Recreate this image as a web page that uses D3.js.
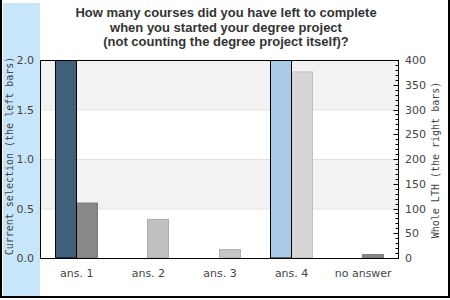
<!DOCTYPE html>
<html><head><meta charset="utf-8">
<script src="https://cdn.jsdelivr.net/npm/d3@7"></script>
<style>body{margin:0;background:#fff}svg{display:block}</style>
</head><body>
<script>
const categories = ["ans. 1","ans. 2","ans. 3","ans. 4","no answer"];
const leftValues = [2, 0, 0, 2, 0];
const rightValues = [112, 79, 18, 377, 8];
const leftColors = ["#405f7b","#405f7b","#405f7b","#a9cbe8","#405f7b"];
const rightColors = ["#888888","#c0c0c0","#c4c4c4","#d6d6d6","#888888"];
const leftTicks = [0, 0.5, 1.0, 1.5, 2.0];
const rightTicks = [0,50,100,150,200,250,300,350,400];
const titleLines = ["How many courses did you have left to complete","when you started your degree project","(not counting the degree project itself)?"];

const W=450,H=300, x0=40, x1=398, y0=60, y1=258;
const svg=d3.select("body").append("svg").attr("width",W).attr("height",H);

svg.append("rect").attr("x",3).attr("y",3).attr("width",37).attr("height",293).attr("fill","#c8e6fa");

const x=d3.scaleBand().domain(categories).range([x0,x1]);
const yL=d3.scaleLinear().domain([0,2]).range([y1,y0]);
const yR=d3.scaleLinear().domain([0,400]).range([y1,y0]);

// bands
const bands=[[1.5,2.0],[0.5,1.0]];
svg.selectAll(".band").data(bands).enter().append("rect")
  .attr("x",x0).attr("width",x1-x0).attr("y",d=>yL(d[1])).attr("height",d=>yL(d[0])-yL(d[1])).attr("fill","#f2f2f2");
svg.selectAll(".grid").data([0.5,1.0,1.5]).enter().append("line")
  .attr("x1",x0).attr("x2",x1).attr("y1",d=>yL(d)+0.5).attr("y2",d=>yL(d)+0.5).attr("stroke","#e0e0e0");

const bw=21;
categories.forEach((c,i)=>{
  const cx=x(c)+x.bandwidth()/2;
  if(rightValues[i]>0){
    svg.append("rect").attr("x",Math.round(cx)+0.5).attr("y",yR(rightValues[i])+0.5)
      .attr("width",bw).attr("height",y1-yR(rightValues[i])-0.5)
      .attr("fill",rightColors[i]).attr("stroke",d3.color(rightColors[i]).darker(0.3)).attr("stroke-width",1);
  }
  if(leftValues[i]>0){
    svg.append("rect").attr("x",Math.round(cx)-bw+0.5).attr("y",yL(leftValues[i])+0.5)
      .attr("width",bw).attr("height",y1-yL(leftValues[i])-0.5)
      .attr("fill",leftColors[i]).attr("stroke","#000").attr("stroke-width",1);
  }
});

// frame
svg.append("rect").attr("x",x0+0.5).attr("y",y0+0.5).attr("width",x1-x0).attr("height",y1-y0)
  .attr("fill","none").attr("stroke","#000").attr("stroke-width",1);

// left axis labels
svg.selectAll(".lt").data(leftTicks).enter().append("text")
  .attr("x",34).attr("y",d=>yL(d)+4).attr("text-anchor","end")
  .attr("font-family","DejaVu Sans").attr("font-size",11).attr("fill","#444").text(d=>d.toFixed(1));

// right axis ticks
const minor=d3.range(0,401,10);
svg.selectAll(".rt").data(minor).enter().append("line")
  .attr("x1",d=>x1+0.5-(d%50===0?5:3)).attr("x2",x1+0.5)
  .attr("y1",d=>Math.round(yR(d))+0.5).attr("y2",d=>Math.round(yR(d))+0.5).attr("stroke","#000");
svg.selectAll(".rl").data(rightTicks).enter().append("text")
  .attr("x",405).attr("y",d=>yR(d)+4)
  .attr("font-family","DejaVu Sans").attr("font-size",11).attr("fill","#444").text(d=>d);

// x labels
svg.selectAll(".xl").data(categories).enter().append("text")
  .attr("x",d=>x(d)+x.bandwidth()/2+1).attr("y",277).attr("text-anchor","middle")
  .attr("font-family","DejaVu Sans").attr("font-size",11).attr("fill","#444").text(d=>d);

// axis titles
svg.append("text").attr("transform","translate(13,156) rotate(-90)").attr("text-anchor","middle")
  .attr("font-family","DejaVu Sans Mono").attr("font-size",10).attr("fill","#444").text("Current selection (the left bars)");
svg.append("text").attr("transform","translate(439,160) rotate(-90)").attr("text-anchor","middle")
  .attr("font-family","DejaVu Sans Mono").attr("font-size",10).attr("fill","#444").text("Whole LTH (the right bars)");

// title
svg.selectAll(".tt").data(titleLines).enter().append("text")
  .attr("x",226).attr("y",(d,i)=>17+i*14.5).attr("text-anchor","middle")
  .attr("font-family","Liberation Sans, Arial").attr("font-weight","bold").attr("font-size",13).attr("fill","#333").text(d=>d);

// outer border
svg.append("path").attr("d","M1,0V297H449V0").attr("fill","none").attr("stroke","#000").attr("stroke-width",2);
</script>
</body></html>
